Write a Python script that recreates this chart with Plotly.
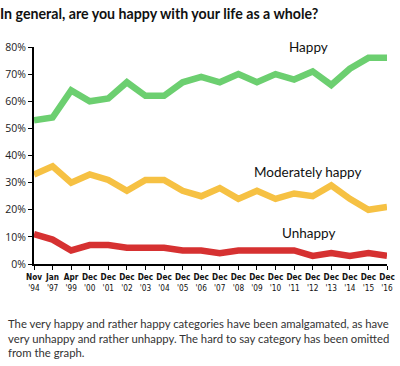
import plotly.graph_objects as go

months = ["Nov", "Jan", "Apr", "Dec", "Dec", "Dec", "Dec", "Dec", "Dec", "Dec",
          "Dec", "Dec", "Dec", "Dec", "Dec", "Dec", "Dec", "Dec", "Dec", "Dec"]
years = ["'94", "'97", "'99", "'00", "'01", "'02", "'03", "'04", "'05", "'06",
         "'07", "'08", "'09", "'10", "'11", "'12", "'13", "'14", "'15", "'16"]
happy = [53, 54, 64, 60, 61, 67, 62, 62, 67, 69, 67, 70, 67, 70, 68, 71, 66, 72, 76, 76]
moderately = [33, 36, 30, 33, 31, 27, 31, 31, 27, 25, 28, 24, 27, 24, 26, 25, 29, 24, 20, 21]
unhappy = [11, 9, 5, 7, 7, 6, 6, 6, 5, 5, 4, 5, 5, 5, 5, 3, 4, 3, 4, 3]
y_ticks = [0, 10, 20, 30, 40, 50, 60, 70, 80]

cats = [f"{m} {y}" for m, y in zip(months, years)]
ticktext = [f"<b>{m}</b><br>{y}" for m, y in zip(months, years)]

series = [
    ("Happy", happy, "#6ccf70"),
    ("Moderately happy", moderately, "#f6c143"),
    ("Unhappy", unhappy, "#d63131"),
]

fig = go.Figure()
for name, vals, col in series:
    fig.add_trace(go.Scatter(x=cats, y=vals, mode="lines", name=name,
                             line=dict(color=col, width=6.5), hoverinfo="skip"))

label_font = dict(family="Lato, 'Open Sans', sans-serif", size=13.5, color="#111")
fig.add_annotation(x=14.75, y=80, text="Happy", showarrow=False, font=label_font,
                   xanchor="center", yanchor="middle")
fig.add_annotation(x=14.75, y=34, text="Moderately happy", showarrow=False, font=label_font,
                   xanchor="center", yanchor="middle")
fig.add_annotation(x=14.75, y=11.3, text="Unhappy", showarrow=False, font=label_font,
                   xanchor="center", yanchor="middle")

fig.add_annotation(
    xref="paper", yref="paper", x=-0.079, y=-0.235, xanchor="left", yanchor="top",
    align="left", showarrow=False,
    text=("The very happy and rather happy categories have been amalgamated, as have<br>"
          "very unhappy and rather unhappy. The hard to say category has been omitted<br>"
          "from the graph."),
    font=dict(family="Lato, 'Open Sans', sans-serif", size=11.3, color="#333"),
)

fig.update_layout(
    width=400, height=366,
    margin=dict(l=29, r=5, t=47, b=102),
    paper_bgcolor="white", plot_bgcolor="white",
    showlegend=False,
    title=dict(text="<b>In general, are you happy with your life as a whole?</b>",
               xref="container", x=0, xanchor="left", y=0.963, yanchor="middle",
               font=dict(family="Lato, 'Open Sans', sans-serif", size=14.2, color="#111")),
    xaxis=dict(type="category", range=[0, 19], tickvals=cats, ticktext=ticktext,
               showgrid=False, showline=True, linecolor="black", linewidth=2,
               ticks="outside", ticklen=4, tickcolor="black", tickwidth=1,
               tickangle=0,
               tickfont=dict(family="'DejaVu Sans Condensed', 'DejaVu Sans'", size=8.2, color="#111")),
    yaxis=dict(range=[0, 80], tickvals=y_ticks, ticktext=[f"{v}%" for v in y_ticks],
               showgrid=False, showline=True, linecolor="black", linewidth=2,
               ticks="outside", ticklen=4, tickcolor="black", tickwidth=1,
               zeroline=False,
               tickfont=dict(family="'Open Sans', sans-serif", size=10.5, color="#222")),
)

fig.write_html("out.html", config={"displayModeBar": False},
               post_script="document.body.style.margin='0';")
